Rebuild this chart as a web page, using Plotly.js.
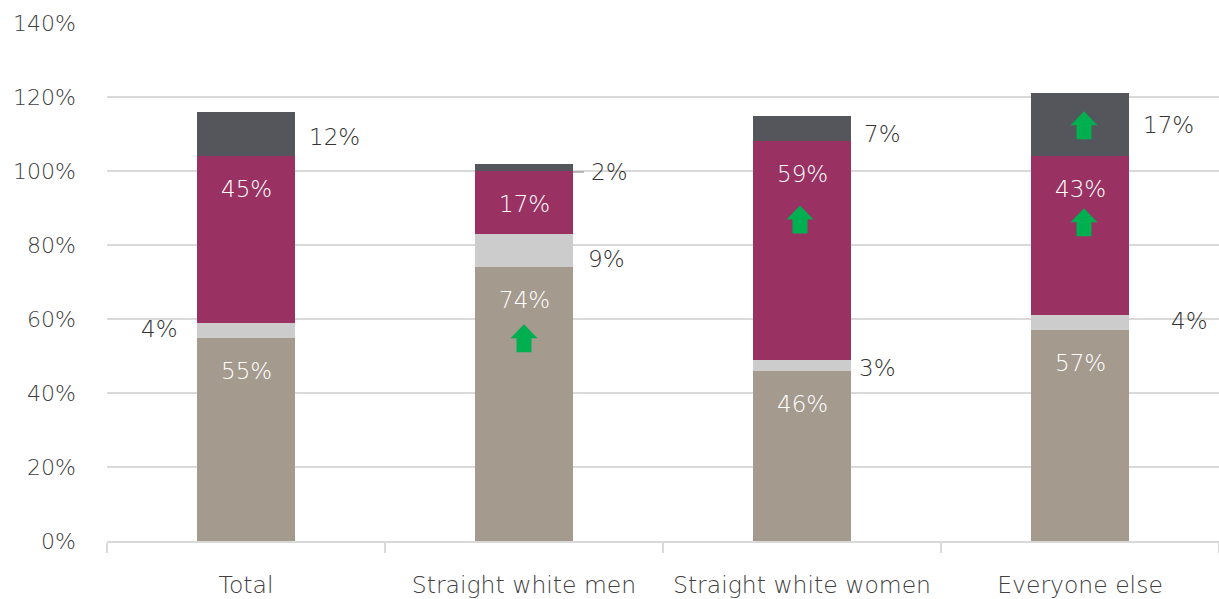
<!DOCTYPE html>
<html>
<head>
<meta charset="utf-8">
<script src="https://cdn.plot.ly/plotly-3.0.1.min.js"></script>
<style>
  html, body { margin: 0; padding: 0; background: #ffffff; }
  #chart { width: 1219px; height: 599px; }
</style>
</head>
<body>
<div id="chart"></div>
<script>
// ---- data ----
const categories = ['Total', 'Straight white men', 'Straight white women', 'Everyone else'];
const tanValues = [55, 74, 46, 57];
const lightGreyValues = [4, 9, 3, 4];
const magentaValues = [45, 17, 59, 43];
const darkGreyValues = [12, 2, 7, 17];
const yTickValues = [0, 20, 40, 60, 80, 100, 120, 140];
const yTickLabels = ['0%', '20%', '40%', '60%', '80%', '100%', '120%', '140%'];
// green "increase" arrows: [category index, segment index]
const arrowMarks = [[1, 0], [2, 2], [3, 2], [3, 3]];

// ---- styles ----
const FONT = 'DejaVu Sans, Liberation Sans, sans-serif';
const colors = ['#a59a8e', '#cccccc', '#993262', '#54565b'];
const series = [tanValues, lightGreyValues, magentaValues, darkGreyValues];
const seriesNames = ['Tan', 'Light grey', 'Magenta', 'Dark grey'];
const insideSeries = [true, false, true, false];

const traces = series.map((vals, s) => ({
  type: 'bar',
  name: seriesNames[s],
  x: categories,
  y: vals,
  marker: { color: colors[s], line: { width: 0 } },
  hoverinfo: 'x+y'
}));

// cumulative bottoms
const bottoms = series.map((vals, s) => vals.map((v, i) => {
  let b = 0; for (let k = 0; k < s; k++) b += series[k][i]; return b;
}));

// per-label adjustments for outside labels (pixels), key "series,category"
const outsideStyle = {
  '1,0': { xanchor: 'right', xshift: -66, yshift: 1 },
  '1,1': { xanchor: 'left', xshift: 62, yshift: -8 },
  '1,2': { xanchor: 'left', xshift: 55, yshift: -3 },
  '1,3': { xanchor: 'left', xshift: 89, yshift: 2 },
  '3,0': { xanchor: 'left', xshift: 61, yshift: -3 },
  '3,1': { xanchor: 'left', xshift: 65, yshift: -5 },
  '3,2': { xanchor: 'left', xshift: 60, yshift: -6 },
  '3,3': { xanchor: 'left', xshift: 61, yshift: 0 }
};

const annotations = [];
series.forEach((vals, s) => {
  vals.forEach((v, i) => {
    const top = bottoms[s][i] + v;
    if (insideSeries[s]) {
      annotations.push({
        x: i, y: top, xref: 'x', yref: 'y',
        text: v + '%', showarrow: false,
        xanchor: 'center', yanchor: 'middle', yshift: -33,
        font: { family: FONT, size: 23, color: '#ffffff', weight: 300 }
      });
    } else {
      const st = outsideStyle[s + ',' + i];
      annotations.push({
        x: i, y: bottoms[s][i] + v / 2, xref: 'x', yref: 'y',
        text: v + '%', showarrow: false,
        xanchor: st.xanchor, yanchor: 'middle',
        xshift: st.xshift, yshift: st.yshift,
        font: { family: FONT, size: 23, color: '#333333', weight: 300 }
      });
    }
  });
});

// arrow shapes (pixel-sized, anchored at segment top)
const arrowTipOffset = { '1,0': 57, '2,2': 64, '3,2': 52, '3,3': 18 };
const arrowDx = { '1,0': 0, '2,2': -2, '3,2': 4, '3,3': 4 };
const shapes = arrowMarks.map(([i, s]) => {
  const top = bottoms[s][i] + series[s][i];
  const t = arrowTipOffset[i + ',' + s];
  const dx = arrowDx[i + ',' + s];
  const p = (x, y) => (x + dx) + ',' + y;
  const path = 'M' + p(0, -t) + ' L' + p(13.5, -t - 14) + ' L' + p(7.5, -t - 14) +
    ' L' + p(7.5, -t - 28) + ' L' + p(-7.5, -t - 28) + ' L' + p(-7.5, -t - 14) +
    ' L' + p(-13.5, -t - 14) + ' Z';
  return {
    type: 'path', xref: 'x', yref: 'y',
    xsizemode: 'pixel', ysizemode: 'pixel',
    xanchor: i, yanchor: top,
    path: path,
    fillcolor: '#00b050', line: { width: 0 }
  };
});
// leader line for the small dark segment of "Straight white men"
shapes.push({
  type: 'line', xref: 'x', yref: 'y',
  xsizemode: 'pixel', ysizemode: 'pixel',
  xanchor: 1, yanchor: bottoms[3][1],
  x0: 49, x1: 60, y0: -1, y1: -1,
  line: { color: '#a6a6a6', width: 1.5 }
});

const layout = {
  width: 1219, height: 599,
  margin: { l: 107, r: 0, t: 23, b: 58 },
  paper_bgcolor: '#ffffff', plot_bgcolor: '#ffffff',
  barmode: 'stack',
  bargap: 0.65,
  showlegend: false,
  font: { family: FONT, color: '#404040', weight: 300 },
  xaxis: {
    type: 'category',
    range: [-0.5, 3.5],
    showline: true, linecolor: '#d9d9d9', linewidth: 1.5,
    ticks: 'outside', tickson: 'boundaries', ticklen: 10, tickcolor: '#d9d9d9', tickwidth: 1.5,
    ticklabelstandoff: 22,
    tickfont: { family: FONT, size: 23.5, color: '#404040', weight: 300 },
    showgrid: false, zeroline: false
  },
  yaxis: {
    range: [0, 140],
    tickvals: yTickValues, ticktext: yTickLabels,
    showgrid: true, gridcolor: '#d9d9d9', gridwidth: 1.5,
    zeroline: false, showline: false,
    ticks: '', ticklabelstandoff: 30,
    tickfont: { family: FONT, size: 22, color: '#404040', weight: 300 }
  },
  annotations: annotations,
  shapes: shapes
};

Plotly.newPlot('chart', traces, layout, { displayModeBar: false, staticPlot: true });
</script>
</body>
</html>
